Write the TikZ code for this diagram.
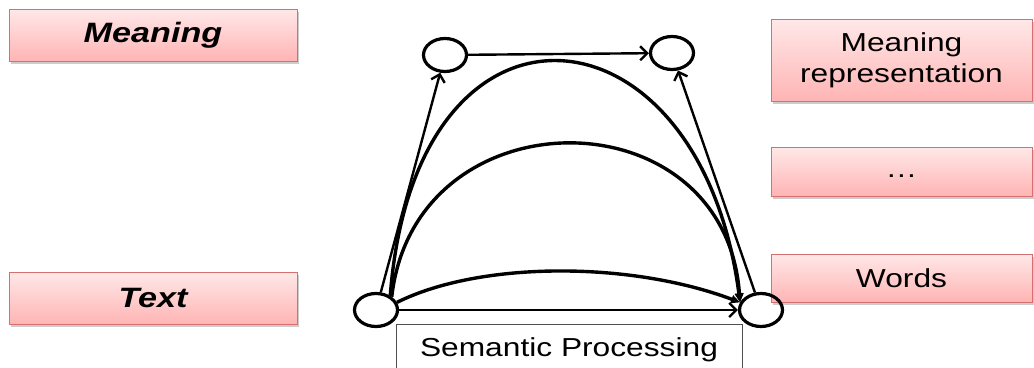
\documentclass[tikz,border=0pt]{standalone}
\usepackage{fontspec}
\setmainfont{Liberation Sans}[FakeStretch=1.22]
\usetikzlibrary{
  shapes.geometric,
  arrows.meta,
  shadows
}
\definecolor{boxtop}{RGB}{255, 232, 232}
\definecolor{boxbottom}{RGB}{255, 180, 180}
\definecolor{boxborder}{RGB}{212, 112, 112}
\definecolor{framecolor}{RGB}{80, 80, 80}
\tikzset{
pinkbox/.style={
  draw=boxborder,
  line width=1pt,
  top color=boxtop,
  bottom color=boxbottom,
  drop shadow={shadow xshift=2pt, shadow yshift=-3pt, fill=black, opacity=0.2},
  align=center,
  inner sep=0pt,
  font=\fontsize{26}{31}\selectfont
},
levelbox/.style={
  pinkbox,
  minimum width=288pt,
  minimum height=52pt,
  font=\fontsize{28}{31}\selectfont\bfseries\itshape
},
repbox/.style={
  pinkbox,
  minimum width=261pt
},
stagebox/.style={
  draw=framecolor,
  line width=1pt,
  fill=white,
  minimum width=346pt,
  minimum height=52pt,
  inner sep=0pt,
  font=\fontsize{26}{31}\selectfont
},
pointnode/.style={
  draw,
  ellipse,
  line width=3.2pt,
  minimum width=43pt,
  minimum height=33pt,
  inner sep=0pt
},
arrow/.style={
  -{Straight Barb[length=7pt,width=14pt]},
  line width=2.4pt
},
curvearrow/.style={
  -{Triangle[length=9pt,width=8pt]},
  line width=3.4pt
}
}

\begin{document}
\begin{tikzpicture}[x=1pt, y=-1pt]
  \useasboundingbox (0,0) rectangle (1034,367);

  % levels on the left
  \node[levelbox] (meaning) at (153,35) {Meaning};
  \node[levelbox] (text) at (153,298) {Text};

  % representations on the right
  \node[repbox, minimum height=82pt] (meaningrep) at (901.5,60) {Meaning\\representation};
  \node[repbox, minimum height=49pt] (dots) at (901.5,171.5) {\strut\dots};
  \node[repbox, minimum height=48pt] (words) at (901.5,278) {Words};

  \node[stagebox] (semproc) at (569,350) {Semantic Processing};

  % processing graph
  \node[pointnode] (srcnode) at (376,310) {};
  \node[pointnode] (dstnode) at (761,310) {};
  \node[pointnode] (topleft) at (445,55) {};
  \node[pointnode] (topright) at (672,53) {};

  \draw[arrow] (topleft) -- (topright);
  \draw[arrow] (srcnode) -- (dstnode);
  \draw[arrow] (srcnode) -- (topleft);
  \draw[arrow] (dstnode) -- (topright);

  \draw[curvearrow] (srcnode.45) .. controls (415,-30) and (700,-5) .. (dstnode.160);
  \draw[curvearrow] (srcnode.40) .. controls (415,92) and (725,92) .. (dstnode.160);
  \draw[curvearrow] (srcnode.20) .. controls (480,261) and (630,261) .. (dstnode.160);
\end{tikzpicture}
\end{document}
